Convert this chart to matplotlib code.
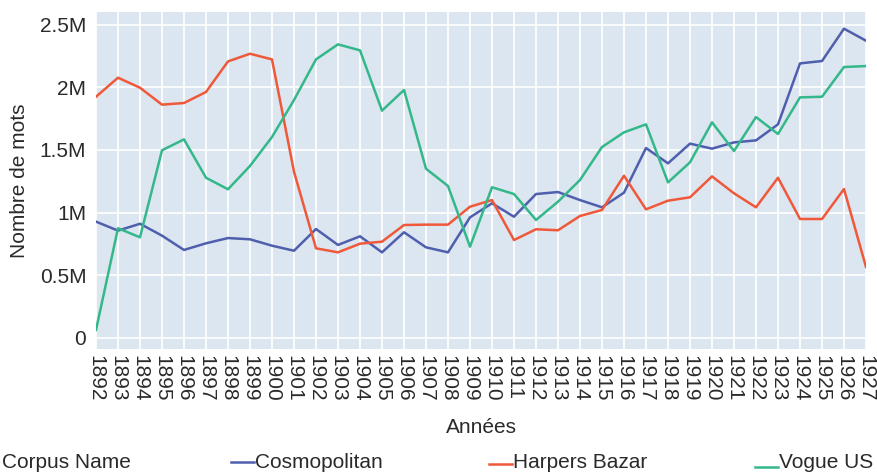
import matplotlib
matplotlib.use("Agg")
import matplotlib.pyplot as plt
from matplotlib.lines import Line2D

plt.rcParams['font.family'] = ['Liberation Sans', 'DejaVu Sans']

years = [str(y) for y in range(1892, 1928)]

cosmopolitan = [0.928, 0.856, 0.911, 0.816, 0.702, 0.755, 0.797, 0.787, 0.736, 0.696,
                0.869, 0.742, 0.811, 0.683, 0.843, 0.723, 0.683, 0.962, 1.074, 0.967,
                1.148, 1.164, 1.100, 1.042, 1.159, 1.515, 1.393, 1.550, 1.510, 1.560,
                1.576, 1.704, 2.190, 2.209, 2.467, 2.371]
harpers = [1.924, 2.076, 1.996, 1.861, 1.874, 1.962, 2.206, 2.267, 2.222, 1.326,
           0.715, 0.683, 0.752, 0.768, 0.901, 0.904, 0.904, 1.047, 1.100, 0.781,
           0.867, 0.859, 0.973, 1.021, 1.294, 1.026, 1.095, 1.122, 1.289, 1.154,
           1.042, 1.278, 0.949, 0.949, 1.188, 0.566]
vogue = [0.064, 0.875, 0.803, 1.497, 1.584, 1.278, 1.186, 1.372, 1.603, 1.898,
         2.222, 2.342, 2.294, 1.813, 1.978, 1.350, 1.212, 0.728, 1.202, 1.148,
         0.941, 1.087, 1.260, 1.523, 1.640, 1.704, 1.241, 1.401, 1.720, 1.491,
         1.762, 1.627, 1.919, 1.924, 2.161, 2.169]

series_names = ["Cosmopolitan", "Harpers Bazar", "Vogue US"]
series_values = [cosmopolitan, harpers, vogue]
colors = ["#4F5FAD", "#F0583A", "#34B88A"]
yticks = [0, 0.5e6, 1e6, 1.5e6, 2e6, 2.5e6]
ytick_labels = ["0", "0.5M", "1M", "1.5M", "2M", "2.5M"]

FS = 15
TXT = "#2a2a2a"

fig = plt.figure(figsize=(8.77, 4.72), dpi=100)
ax = fig.add_axes([96/877, 1 - 349/472, (866-96)/877, (349-12)/472])
ax.set_facecolor("#DCE6F1")

x = list(range(len(years)))
for name, vals, c in zip(series_names, series_values, colors):
    ax.plot(x, [v * 1e6 for v in vals], color=c, lw=1.8, label=name, zorder=3)

ax.set_xlim(0, len(years) - 1)
ax.set_ylim(-0.088e6, 2.6e6)
ax.set_xticks(x)
ax.set_xticklabels(years, rotation=-90, fontsize=FS, color=TXT)
ax.set_yticks(yticks)
ax.set_yticklabels(ytick_labels, fontsize=FS, color=TXT)
ax.tick_params(axis='y', length=0, pad=7)
ax.tick_params(axis='x', length=0, pad=4)
ax.grid(True, color="white", lw=1.2, zorder=0)
ax.set_axisbelow(True)
for s in ax.spines.values():
    s.set_visible(False)

ax.set_xlabel("Années", fontsize=FS, color=TXT, labelpad=12)
ax.set_ylabel("Nombre de mots", fontsize=FS, color=TXT, labelpad=8)

# Legend (horizontal, at bottom)
fig.text(2/877, 1 - 462/472, "Corpus Name", fontsize=FS, color=TXT, va="center", ha="left")
leg_pos = [(231, 254, 462), (489, 512, 464), (755, 778, 467)]
for (x0, x1, yl), name, c in zip(leg_pos, series_names, colors):
    fig.add_artist(Line2D([x0/877, x1/877], [1 - yl/472, 1 - yl/472], color=c, lw=1.8,
                          transform=fig.transFigure))
    fig.text((x1 + 1)/877, 1 - 462/472, name, fontsize=FS, color=TXT,
             va="center", ha="left")

fig.savefig("out.png", dpi=100, facecolor="white")
